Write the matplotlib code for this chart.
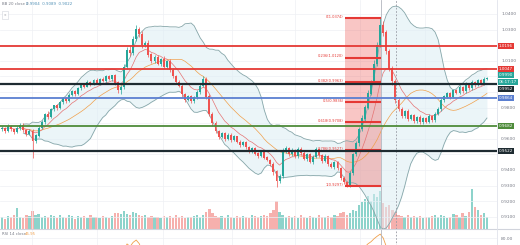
import matplotlib
matplotlib.use("Agg")
import matplotlib.pyplot as plt
import numpy as np
import pandas as pd

# daily closes in pips (x 0.0001)
close_pips = [
    9670, 9652, 9681, 9660, 9645, 9668, 9690, 9655, 9632, 9650,
    9585, 9620, 9668, 9705, 9760, 9742, 9790, 9812, 9798, 9836,
    9858, 9840, 9882, 9905, 9890, 9925, 9948, 9935, 9962, 9950,
    9975, 9960, 9985, 9970, 9998, 9985, 10005, 9960, 9915, 9930,
    10060, 10170, 10150, 10240, 10300, 10270, 10200, 10215, 10140, 10100,
    10125, 10080, 10110, 10060, 10095, 10040, 10000, 9965, 9940, 9885,
    9850, 9870, 9840, 9865, 9900, 9940, 9985, 9870, 9760, 9700,
    9650, 9610, 9635, 9600, 9625, 9590, 9615, 9580, 9560, 9575,
    9545, 9520, 9540, 9505, 9490, 9515, 9480, 9465, 9440, 9390,
    9330, 9360, 9520, 9540, 9500, 9525, 9490, 9535, 9510, 9470,
    9500, 9450, 9485, 9530, 9495, 9460, 9490, 9440, 9420, 9450,
    9410, 9350, 9320, 9300, 9380, 9500, 9570, 9660, 9730, 9800,
    9890, 9960, 10080, 10200, 10330, 10280, 10160, 10050, 9970, 9850,
    9790, 9745, 9775, 9730, 9750, 9715, 9740, 9705, 9730, 9710,
    9745, 9720, 9760, 9790, 9850, 9870, 9890, 9870, 9910, 9895,
    9930, 9905, 9950, 9925, 9960, 9945, 9975, 9955, 9985, 9990,
]
first_open_pips = 9660

wick_up = [
    12, 8, 15, 10, 6, 14, 9, 11, 7, 13,
    10, 9, 12, 14, 8, 16, 10, 7, 12, 9,
    11, 8, 13, 6, 10, 9, 12, 8, 14, 7,
    9, 12, 6, 10, 8, 11, 7, 13, 9, 15,
    20, 18, 25, 22, 30, 14, 20, 12, 18, 10,
    15, 12, 10, 18, 9, 14, 11, 8, 12, 10,
    9, 13, 8, 11, 15, 12, 20, 10, 14, 9,
    12, 8, 10, 7, 13, 9, 11, 6, 10, 8,
    9, 12, 7, 10, 8, 13, 9, 11, 7, 12,
    10, 15, 20, 12, 9, 14, 8, 11, 10, 13,
    9, 12, 8, 15, 10, 7, 12, 9, 11, 8,
    10, 12, 9, 8, 14, 12, 18, 15, 20, 16,
    22, 18, 25, 20, 44, 25, 20, 18, 16, 15,
    14, 12, 10, 13, 9, 11, 8, 12, 10, 9,
    13, 10, 12, 15, 14, 12, 10, 13, 9, 11,
    12, 10, 14, 9, 20, 12, 10, 11, 8, 9,
]
wick_dn = [
    9, 14, 8, 12, 15, 7, 10, 13, 11, 8,
    105, 12, 9, 8, 11, 14, 7, 10, 13, 8,
    10, 12, 7, 9, 13, 8, 11, 10, 6, 12,
    8, 10, 13, 7, 11, 9, 12, 15, 20, 25,
    12, 10, 18, 14, 12, 16, 20, 14, 18, 15,
    12, 10, 14, 9, 13, 11, 8, 12, 10, 14,
    11, 9, 13, 8, 10, 12, 9, 14, 16, 20,
    10, 12, 8, 11, 9, 13, 7, 10, 12, 8,
    11, 9, 13, 10, 12, 8, 11, 9, 14, 20,
    40, 12, 10, 9, 13, 8, 11, 10, 12, 9,
    11, 8, 13, 10, 9, 12, 8, 14, 10, 12,
    9, 14, 11, 6, 10, 12, 9, 14, 11, 13,
    10, 12, 9, 15, 11, 20, 18, 15, 22, 18,
    15, 12, 10, 14, 9, 11, 13, 8, 12, 10,
    9, 12, 10, 8, 11, 13, 9, 12, 10, 11,
    8, 12, 10, 9, 14, 11, 8, 10, 12, 9,
]
volume = [
    60, 52, 66, 58, 70, 105, 62, 55, 72, 64,
    90, 68, 74, 60, 66, 58, 72, 63, 55, 68,
    61, 57, 70, 64, 52, 66, 59, 63, 55, 70,
    58, 62, 54, 67, 60, 56, 65, 78, 82, 74,
    88, 76, 70, 84, 80, 72, 66, 70, 60, 64,
    58, 62, 55, 67, 60, 63, 56, 70, 59, 64,
    55, 62, 58, 66, 72, 60, 68, 85, 100, 78,
    66, 58, 63, 55, 68, 60, 57, 64, 59, 66,
    61, 55, 70, 63, 58, 66, 72, 64, 80, 95,
    140, 86, 72, 60, 66, 58, 63, 55, 68, 60,
    57, 64, 61, 55, 70, 58, 62, 66, 60, 72,
    65, 78, 84, 70, 80, 95, 88, 120, 135, 150,
    165, 140, 175, 160, 190, 130, 110, 120, 95, 85,
    70, 66, 62, 70, 58, 64, 60, 67, 55, 62,
    58, 66, 72, 60, 70, 64, 56, 62, 75, 68,
    60, 78, 66, 85, 200, 110, 95, 70, 82, 60,
]

level_prices = [1.0196, 1.0047, 0.9952, 0.9864, 0.9682, 0.9522]
level_colors = ['#e53935', '#e53935', '#1e2b31', '#5b7fd1', '#4e8b3a', '#1e2b31']

fib_ratios = [0, 0.236, 0.382, 0.5, 0.618, 0.786, 1]
fib_high = 1.0374
fib_low = 0.9297
fib_start, fib_end = 113, 124

UP, DN = '#26a69a', '#ef5350'
W, H = 520, 245

close = np.array(close_pips) / 10000
opn = np.r_[first_open_pips / 10000, close[:-1]]
high = np.maximum(opn, close) + np.array(wick_up) / 10000
low = np.minimum(opn, close) - np.array(wick_dn) / 10000
idx = np.arange(len(close))
up = close >= opn

s = pd.Series(close)
mid = s.rolling(20, min_periods=8).mean()
sd = s.rolling(20, min_periods=8).std(ddof=0)
bb_up = mid + 2 * sd
bb_dn = mid - 2 * sd
ema = s.ewm(span=9, adjust=False).mean()

delta = s.diff()
gain = delta.clip(lower=0).ewm(alpha=1 / 14, adjust=False).mean()
loss = (-delta.clip(upper=0)).ewm(alpha=1 / 14, adjust=False).mean()
rsi = 100 - 100 / (1 + gain / loss)

fig = plt.figure(figsize=(W / 100, H / 100), dpi=100)
fig.patch.set_facecolor('white')

xlim = (-2 / 3.05, 495 / 3.05)
grid_x = [(x - 2) / 3.05 for x in [32, 97, 163, 232, 295, 360, 425]]
ax = fig.add_axes([0, 16 / H, 497 / W, 229 / H])
axv = ax.twinx()
ax.set_zorder(axv.get_zorder() + 1)
ax.patch.set_visible(False)

# volume
vcol = np.where(up, '#8dd3cb', '#f6b0ad')
axv.bar(idx, volume, width=0.75, color=vcol, linewidth=0)
axv.set_ylim(0, 1140)
axv.set_yticks([])
for sp in axv.spines.values():
    sp.set_visible(False)

# bollinger
ax.fill_between(idx, bb_dn, bb_up, color='#dcedf4', alpha=0.55, linewidth=0, zorder=1)
ax.plot(idx, bb_up, color='#86a6a9', lw=0.6, zorder=2)
ax.plot(idx, bb_dn, color='#86a6a9', lw=0.6, zorder=2)
ax.plot(idx, mid, color='#f0a04b', lw=0.5, zorder=2)
ax.plot(idx, ema, color='#e57373', lw=0.5, zorder=2)

# fib block
ax.fill_between([fib_start - 0.4, fib_end + 0.3], fib_low, fib_high,
                color='#ef5350', alpha=0.33, linewidth=0, zorder=1.5)
for r in fib_ratios:
    p = fib_high - r * (fib_high - fib_low)
    ax.hlines(p, fib_start - 0.4, fib_end + 0.3, color='#e53935', lw=1.5, zorder=4)
    ax.text(fib_start - 1.0, p + 0.0008, f"{r:g}({p:.4f})", ha='right', va='center',
            fontsize=2.6, color='#e53935', zorder=5)

# candles
cc = np.where(up, UP, DN)
ax.vlines(idx, low, high, colors=cc, lw=0.5, zorder=3)
ax.bar(idx, np.abs(close - opn) + 0.00015, bottom=np.minimum(opn, close),
       width=0.65, color=cc, linewidth=0, zorder=3)

# horizontal levels
for p, c in zip(level_prices, level_colors):
    lw = 1.6 if c == '#1e2b31' else 1.3
    ax.axhline(p, color=c, lw=lw, zorder=4)

ax.axvline(124.3, color='#b2b5be', lw=0.6, zorder=2)
ax.axvline(129.2, color='#9598a1', lw=0.6, ls=(0, (2, 2)), zorder=2)

ax.set_xlim(*xlim)
ax.set_ylim(0.90218, 1.04897)
ax.yaxis.tick_right()
ticks = np.round(np.arange(0.91, 1.0401, 0.01), 2)
hidden = {1.02, 1.00, 0.99, 0.97, 0.95}
ax.set_yticks(ticks)
ax.set_yticklabels(["" if t in hidden else f"{t:.4f}" for t in ticks])
ax.tick_params(axis='y', labelsize=3.2, colors='#787b86', length=0, pad=3)
ax.set_xticks(grid_x)
ax.tick_params(axis='x', labelbottom=False, length=0)
ax.grid(True, color='#eef0f4', lw=0.5)
ax.set_axisbelow(True)
for sp in ax.spines.values():
    sp.set_visible(False)

# right-hand price tags
tags = [
    (1.0196, '1.0196', '#e53935'),
    (1.0047, '1.0047', '#e53935'),
    (1.0007, '0.9990', '#26a69a'),
    (0.99625, '06:17:17', '#26a69a'),
    (0.99180, '0.9952', '#1e2b31'),
    (0.9862, '0.9864', '#5b7fd1'),
    (0.9682, '0.9682', '#4e8b3a'),
    (0.9522, '0.9522', '#1e2b31'),
]
for p, txt, c in tags:
    ax.text(1.004, p, txt, transform=ax.get_yaxis_transform(), ha='left', va='center',
            fontsize=3.0, color='white', zorder=10, clip_on=False,
            bbox=dict(boxstyle='square,pad=0.22', fc=c, ec='none'))

# RSI pane (mostly below the visible area)
axr = fig.add_axes([0, 16 / H - 72 / H, 497 / W, 72 / H])
axr.plot(idx, rsi, color='#f0a04b', lw=0.6)
axr.axvline(124.3, color='#b2b5be', lw=0.6)
axr.axvline(129.2, color='#9598a1', lw=0.6, ls=(0, (2, 2)))
axr.set_xlim(*xlim)
axr.set_ylim(10, 90)
axr.set_xticks(grid_x)
axr.set_yticks([80])
axr.yaxis.tick_right()
axr.set_yticklabels(['80.00'])
axr.tick_params(labelsize=3.2, colors='#787b86', length=0, pad=3, labelbottom=False)
axr.grid(True, color='#eef0f4', lw=0.5)
for sp in axr.spines.values():
    sp.set_visible(False)

# pane separators
fig.add_artist(plt.Line2D([0, 1], [16 / H, 16 / H], color='#d1d4dc', lw=0.8))
fig.add_artist(plt.Line2D([497 / W, 497 / W], [0, 1], color='#e0e3eb', lw=0.6))

# legends
fig.text(2 / W, 1 - 4 / H, "BB 20 close 2", fontsize=2.8, color='#787b86', va='center')
fig.text(26 / W, 1 - 4 / H, "0.9904  0.9089  0.9022", fontsize=2.8, color='#4f8fb5', va='center')
fig.text(4 / W, 1 - 15 / H, "\u00ab", fontsize=3, color='#787b86', va='center',
         bbox=dict(boxstyle='square,pad=0.4', fc='white', ec='#d1d4dc', lw=0.4))
fig.text(2 / W, 1 - 234 / H, "RSI 14 close", fontsize=2.8, color='#787b86', va='center')
fig.text(25 / W, 1 - 234 / H, "45.95", fontsize=2.8, color='#f0a04b', va='center')

fig.savefig("out.png", dpi=100)
